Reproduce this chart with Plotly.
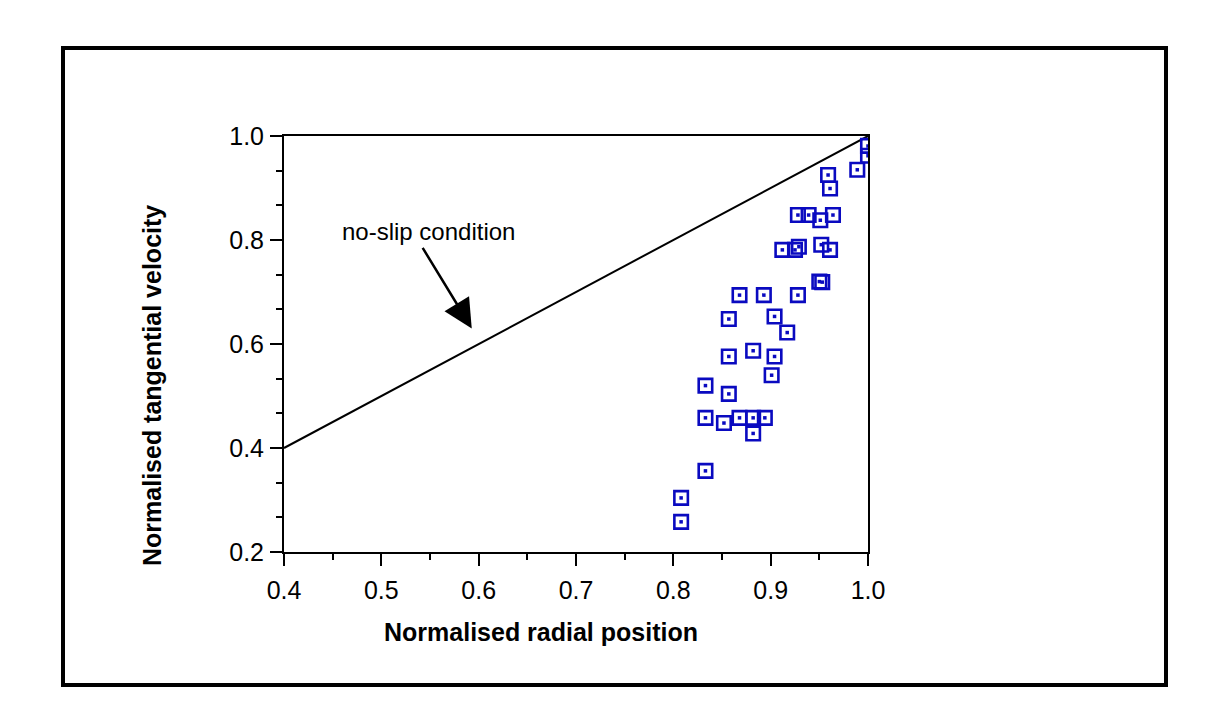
import plotly.graph_objects as go

# Data
radial = [1.000, 1.000, 0.989, 0.959, 0.961, 0.928, 0.939, 0.951, 0.964, 0.912,
          0.925, 0.929, 0.952, 0.961, 0.950, 0.953, 0.868, 0.893, 0.928, 0.857,
          0.904, 0.917, 0.882, 0.857, 0.904, 0.901, 0.833, 0.857, 0.833, 0.852,
          0.868, 0.882, 0.894, 0.882, 0.833, 0.808, 0.808]
tangential = [0.981, 0.962, 0.935, 0.925, 0.899, 0.848, 0.848, 0.838, 0.848, 0.781,
              0.781, 0.787, 0.791, 0.781, 0.720, 0.719, 0.694, 0.694, 0.694, 0.648,
              0.653, 0.622, 0.587, 0.576, 0.576, 0.540, 0.520, 0.504, 0.458, 0.448,
              0.458, 0.458, 0.458, 0.428, 0.356, 0.304, 0.258]
noslip_x = [0.4, 1.0]
noslip_y = [0.4, 1.0]
x_ticks = [0.4, 0.5, 0.6, 0.7, 0.8, 0.9, 1.0]
y_ticks = [0.2, 0.4, 0.6, 0.8, 1.0]

FONT = "Liberation Sans, Arial, sans-serif"
BLUE = "#0A0AC0"
W, H = 1225, 704
L, R, T, B = 284, 868, 136, 552
pw, ph = R - L, B - T

def px(xp):
    return (xp - L) / pw

def py(yp):
    return (B - yp) / ph

fig = go.Figure()
fig.add_trace(go.Scatter(x=noslip_x, y=noslip_y, mode="lines",
                         line=dict(color="black", width=2), showlegend=False,
                         hoverinfo="skip"))
fig.add_trace(go.Scatter(x=radial, y=tangential, mode="markers",
                         marker=dict(symbol="square-open", size=13.5,
                                     color=BLUE, line=dict(width=2.6, color=BLUE)),
                         showlegend=False))
fig.add_trace(go.Scatter(x=radial, y=tangential, mode="markers",
                         marker=dict(symbol="square", size=3.5, color=BLUE,
                                     line=dict(width=0)),
                         showlegend=False, hoverinfo="skip"))

axis_common = dict(showline=True, linecolor="black", linewidth=2, mirror=True,
                   ticks="outside", ticklen=12, tickwidth=2, tickcolor="black",
                   showgrid=False, zeroline=False,
                   tickfont=dict(family=FONT, size=25, color="black"))

fig.update_xaxes(range=[0.4, 1.0], tickvals=x_ticks, tickformat=".1f",
                 ticklabelstandoff=3,
                 minor=dict(dtick=0.05, tick0=0.4, ticks="outside", ticklen=6,
                            tickwidth=2, tickcolor="black", showgrid=False),
                 **axis_common)
fig.update_yaxes(range=[0.2, 1.0], tickvals=y_ticks, tickformat=".1f",
                 ticklabelstandoff=1,
                 minor=dict(dtick=0.2 / 3, tick0=0.2, ticks="outside", ticklen=6,
                            tickwidth=2, tickcolor="black", showgrid=False),
                 **axis_common)

annotations = [
    dict(text="<b>Normalised radial position</b>", xref="paper", yref="paper",
         x=px(541), y=py(632), xanchor="center", yanchor="middle", showarrow=False,
         font=dict(family=FONT, size=25, color="black")),
    dict(text="<b>Normalised tangential velocity</b>", xref="paper", yref="paper",
         x=px(152), y=py(386), xanchor="center", yanchor="middle", showarrow=False,
         textangle=-90,
         font=dict(family=FONT, size=25, color="black")),
    dict(text="no-slip condition", xref="x", yref="y",
         x=0.5485, y=0.816, xanchor="center", yanchor="middle", showarrow=False,
         font=dict(family=FONT, size=24, color="black")),
    dict(text="", xref="x", yref="y", x=0.5929, y=0.630,
         ax=-50, ay=-82, showarrow=True, arrowhead=2, arrowsize=2.3,
         arrowwidth=2.5, arrowcolor="black", standoff=0),
]

shapes = [dict(type="rect", xref="paper", yref="paper",
               x0=px(63), x1=px(1166), y0=py(685), y1=py(48),
               line=dict(color="black", width=4), fillcolor="rgba(0,0,0,0)")]

fig.update_layout(width=W, height=H, margin=dict(l=L, r=W - R, t=T, b=H - B),
                  plot_bgcolor="white", paper_bgcolor="white",
                  annotations=annotations, shapes=shapes)

fig.write_html("out.html")
